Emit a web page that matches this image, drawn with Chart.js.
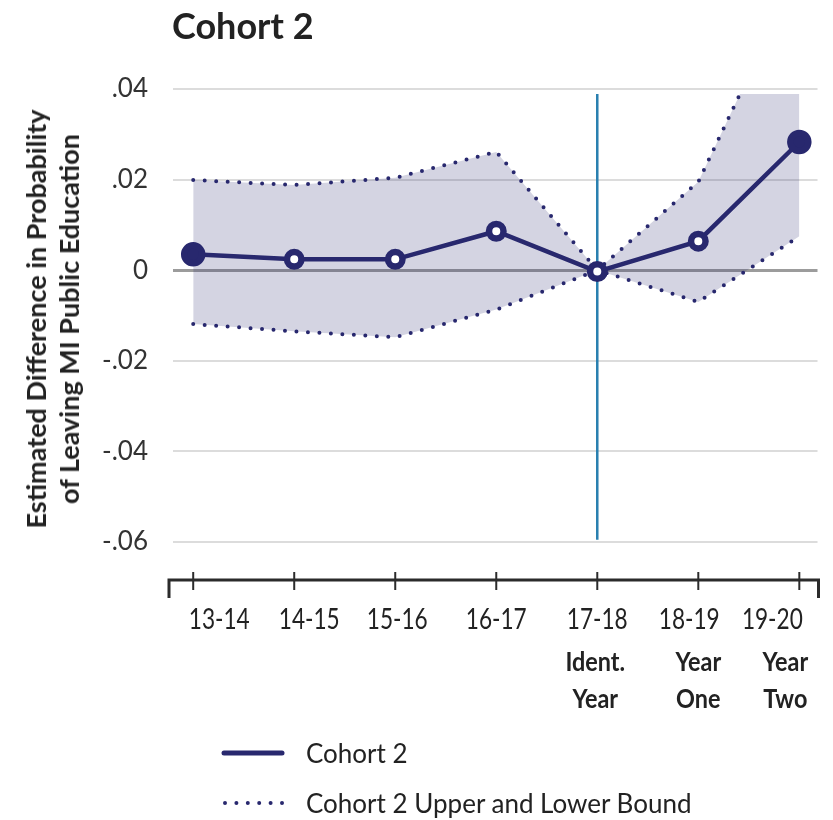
<!DOCTYPE html>
<html>
<head>
<meta charset="utf-8">
<script src="https://cdn.jsdelivr.net/npm/chart.js@4/dist/chart.umd.min.js"></script>
<style>
  body { margin: 0; background: #fff; }
  #wrap { position: relative; width: 833px; height: 820px; font-family: Lato, sans-serif; color: #222; }
  #title { position: absolute; left: 172px; top: 3px; font-weight: 700; font-size: 36px; }
  #ytitle {
    position: absolute; left: 52px; top: 319px; white-space: nowrap; text-align: center;
    transform: translate(-50%, -50%) rotate(-90deg);
    font-weight: 700; font-size: 27px; line-height: 33px;
  }
  .legend-row { position: absolute; left: 220px; height: 30px; display: flex; align-items: center; font-size: 26px; }
  .legend-row svg { margin-right: 20px; }
</style>
</head>
<body>
<div id="wrap">
  <canvas id="chart" width="833" height="820"></canvas>
  <div id="title">Cohort 2</div>
  <div id="ytitle">Estimated Difference in Probability<br>of Leaving MI Public Education</div>
  <div class="legend-row" style="top:738px">
    <svg width="66" height="10"><line x1="4" y1="5" x2="62" y2="5" stroke="#28286e" stroke-width="5" stroke-linecap="round"/></svg>
    <span>Cohort 2</span>
  </div>
  <div class="legend-row" style="top:788px">
    <svg width="66" height="10"><line x1="5" y1="5" x2="63" y2="5" stroke="#28286e" stroke-width="4" stroke-linecap="round" stroke-dasharray="0 11.4"/></svg>
    <span>Cohort 2 Upper and Lower Bound</span>
  </div>
</div>
<script>
const categories = ['13-14', '14-15', '15-16', '16-17', '17-18', '18-19', '19-20'];
const subLabels = [[], [], [], [], ['Ident.', 'Year'], ['Year', 'One'], ['Year', 'Two']];
const cohort2 = [0.0035, 0.0024, 0.0024, 0.0086, -0.0003, 0.0064, 0.0283];
const upperBound = [0.0199, 0.0188, 0.0204, 0.0261, 0.0, 0.0195, 0.0665];
const lowerBound = [-0.0119, -0.0135, -0.0148, -0.0087, 0.0, -0.0070, 0.0075];
const yTicks = [0.04, 0.02, 0, -0.02, -0.04, -0.06];
const yTickLabels = ['.04', '.02', '0', '-.02', '-.04', '-.06'];
const identYear = 4;
const identLine = [0.0395, -0.0595];

const NAVY = '#28286e';
const labelNudge = [26, 15, 2, 0, 0, -9, -27];
const subNudge = [0, 0, 0, 0, -2, 0, -14];

const toPoints = (values) => values.map((y, x) => ({ x, y }));

const clipTop = {
  id: 'clipTop',
  beforeDatasetsDraw(chart) {
    const { ctx, chartArea: a } = chart;
    ctx.save();
    ctx.beginPath();
    ctx.rect(a.left - 30, a.top + 5, a.right - a.left + 60, a.bottom - a.top);
    ctx.clip();
  },
  afterDatasetsDraw(chart) {
    chart.ctx.restore();
  },
};

// narrow text: the source uses a condensed face we don't have
const fillNarrow = (ctx, text, x, y, squeeze) => {
  ctx.save();
  ctx.translate(x, y);
  ctx.scale(squeeze, 1);
  ctx.fillText(text, 0, 0);
  ctx.restore();
};

const xAxis = {
  id: 'xAxis',
  afterDraw(chart) {
    const { ctx, chartArea: a } = chart;
    const xs = chart.scales.x;
    const y = a.bottom;

    ctx.save();
    ctx.strokeStyle = '#2b2b2b';
    ctx.lineWidth = 3;
    ctx.beginPath();
    ctx.moveTo(a.left - 4, y + 18);
    ctx.lineTo(a.left - 4, y);
    ctx.lineTo(a.right + 1, y);
    ctx.lineTo(a.right + 1, y + 18);
    ctx.stroke();

    ctx.lineWidth = 2;
    categories.forEach((c, i) => {
      const px = xs.getPixelForValue(i);
      ctx.beginPath();
      ctx.moveTo(px, y - 8);
      ctx.lineTo(px, y + 10);
      ctx.stroke();
    });

    ctx.fillStyle = '#222';
    ctx.textAlign = 'center';
    ctx.textBaseline = 'middle';
    categories.forEach((c, i) => {
      const px = xs.getPixelForValue(i);
      ctx.font = '29px Lato, sans-serif';
      fillNarrow(ctx, c, px + labelNudge[i], y + 40, 0.78);
      ctx.font = 'bold 26px Lato, sans-serif';
      subLabels[i].forEach((s, j) => {
        fillNarrow(ctx, s, px + subNudge[i], y + 83 + j * 37, 0.9);
      });
    });
    ctx.restore();
  },
};

const dotted = {
  borderColor: NAVY,
  borderWidth: 4,
  borderDash: [0, 11.5],
  borderCapStyle: 'round',
  pointRadius: 0,
  tension: 0,
  order: 1,
};

window.onload = () => {
  new Chart(document.getElementById('chart'), {
    type: 'line',
    data: {
      datasets: [
        {
          label: 'Cohort 2',
          data: toPoints(cohort2),
          borderColor: NAVY,
          borderWidth: 4.5,
          pointRadius: cohort2.map((v, i) => (i === 0 || i === cohort2.length - 1 ? 9 : 7.25)),
          pointBorderWidth: 6.5,
          pointBorderColor: NAVY,
          pointBackgroundColor: cohort2.map((v, i) => (i === 0 || i === cohort2.length - 1 ? NAVY : '#fff')),
          order: 0,
        },
        {
          ...dotted,
          label: 'Cohort 2 Upper and Lower Bound',
          data: toPoints(upperBound),
          fill: '+1',
          backgroundColor: 'rgba(40, 40, 110, 0.2)',
        },
        {
          ...dotted,
          label: 'Cohort 2 Lower Bound',
          data: toPoints(lowerBound),
          fill: false,
        },
        {
          label: 'Identification year',
          data: identLine.map((y) => ({ x: identYear, y })),
          borderColor: '#2a80b0',
          borderWidth: 2.5,
          pointRadius: 0,
          order: 2,
        },
      ],
    },
    options: {
      responsive: false,
      animation: false,
      layout: { padding: { top: 89, right: 10, left: 0, bottom: 140 } },
      plugins: {
        legend: { display: false },
        tooltip: { enabled: false },
      },
      scales: {
        x: {
          type: 'linear',
          min: -0.2,
          max: 6.18,
          grid: { display: false },
          border: { display: false },
          ticks: { display: false },
          afterFit: (s) => { s.height = 100; },
        },
        y: {
          min: -0.0684,
          max: 0.04,
          afterBuildTicks: (s) => { s.ticks = yTicks.map((value) => ({ value })); },
          afterFit: (s) => { s.width = 173; },
          border: { display: false },
          grid: {
            drawTicks: false,
            color: (ctx) => (ctx.tick && ctx.tick.value === 0 ? '#9c9c9c' : '#dcdcdc'),
            lineWidth: (ctx) => (ctx.tick && ctx.tick.value === 0 ? 3 : 2),
          },
          ticks: {
            padding: 25,
            color: '#333',
            font: { family: 'Lato', size: 26 },
            callback: (v, i) => yTickLabels[i],
          },
        },
      },
    },
    plugins: [clipTop, xAxis],
  });
};
</script>
</body>
</html>
